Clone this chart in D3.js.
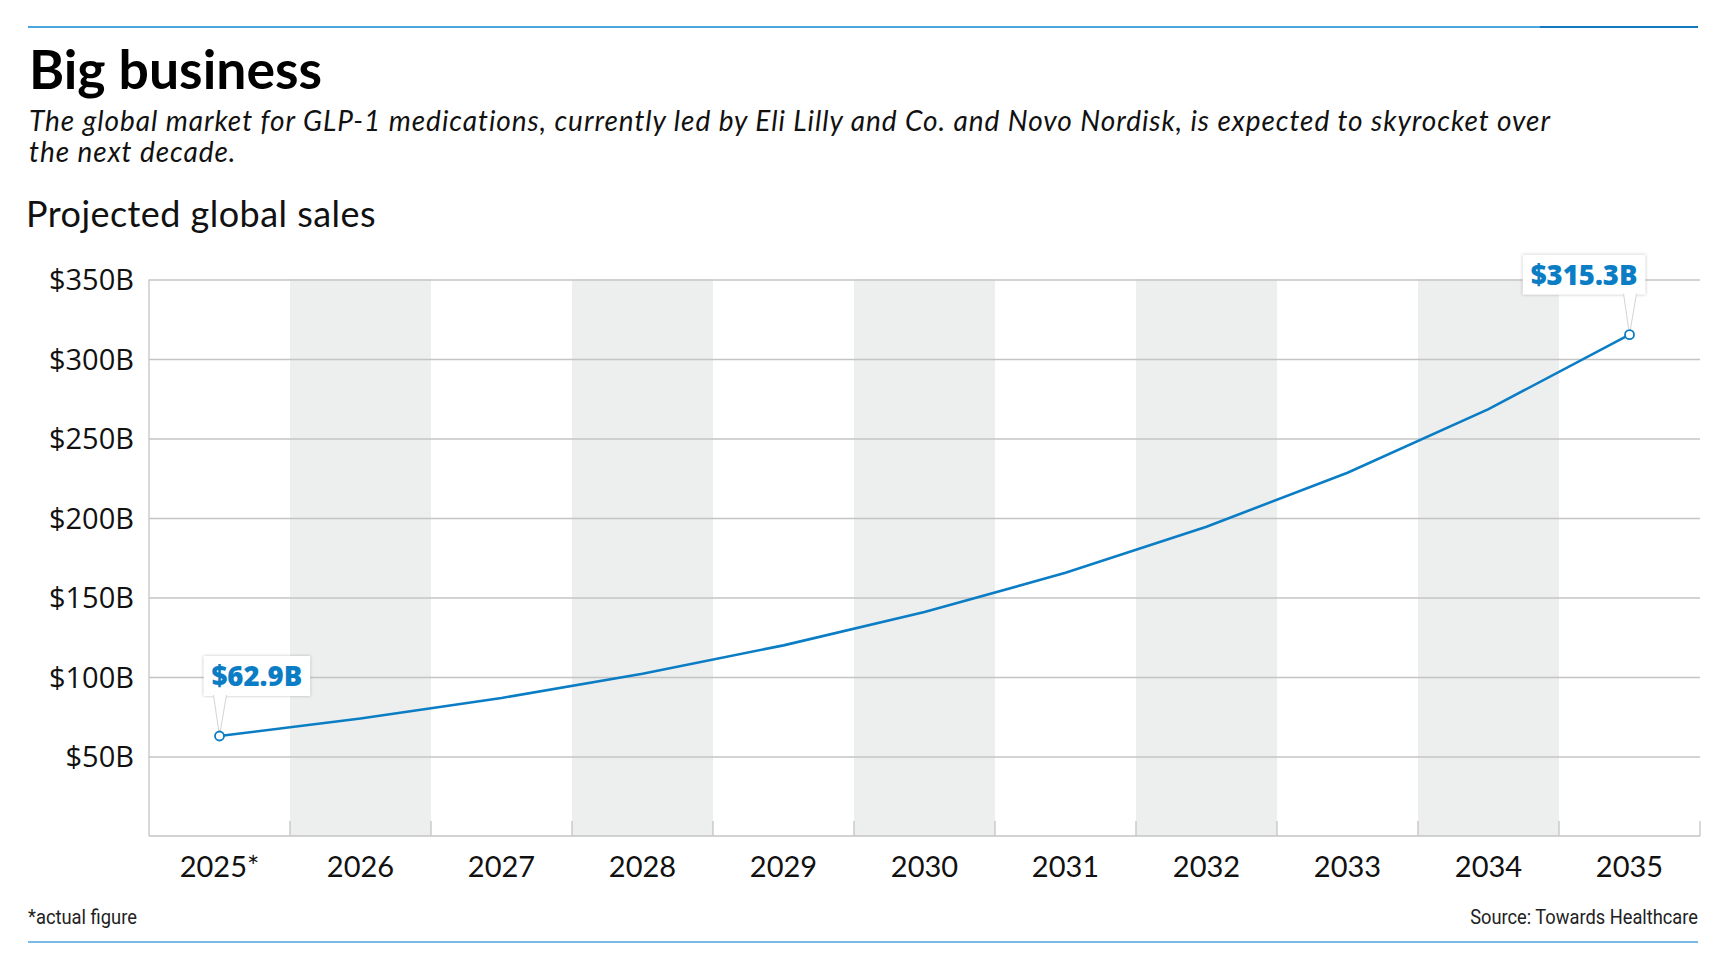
<!DOCTYPE html>
<html>
<head>
<meta charset="utf-8">
<script src="https://cdn.jsdelivr.net/npm/d3@7"></script>
<style>
  body { margin: 0; background: #fff; }
  svg { display: block; }
</style>
</head>
<body>
<svg id="chart" width="1735" height="973"></svg>
<script>
// data
let years = ["2025*", "2026", "2027", "2028", "2029", "2030", "2031", "2032", "2033", "2034", "2035"]
let sales = [62.9, 73.9, 86.8, 102.0, 119.9, 140.9, 165.5, 194.5, 228.5, 268.5, 315.3]
let yTicks = [50, 100, 150, 200, 250, 300, 350]
let calloutIdx = [0, 10]

let svg = d3.select("#chart")
let blue = "#0b7dc5"
let grid = "#c4c4c4"

let pLeft = 149, pRight = 1700, pTop = 279.5, pBottom = 836

let x = d3.scaleBand().domain(years).range([pLeft, pRight])
let y = d3.scaleLinear().domain([0, 350]).range([pBottom, pTop])

// rules top and bottom
svg.append("line").attr("x1", 28).attr("x2", 1698).attr("y1", 27).attr("y2", 27)
    .attr("stroke", "#4ba6de").attr("stroke-width", 2)
svg.append("line").attr("x1", 1540).attr("x2", 1698).attr("y1", 27).attr("y2", 27)
    .attr("stroke", "#1478c0").attr("stroke-width", 2)
svg.append("line").attr("x1", 28).attr("x2", 1698).attr("y1", 942).attr("y2", 942)
    .attr("stroke", "#4ba6de").attr("stroke-width", 1.5)

// titles
svg.append("text").attr("x", 29).attr("y", 89)
    .attr("font-family", "Lato").attr("font-weight", 700).attr("font-size", 53.5)
    .attr("fill", "#000").text("Big business")

// subtitle, two lines as in the reference
let subLines = ["The global market for GLP-1 medications, currently led by Eli Lilly and Co. and Novo Nordisk, is expected to skyrocket over",
    "the next decade."]
svg.selectAll("text.sub")
    .data(subLines)
    .join("text")
    .attr("class", "sub")
    .attr("x", 29)
    .attr("y", (d, i) => 131 + i * 31)
    .attr("font-family", "Lato").attr("font-style", "italic")
    .attr("font-size", 28).attr("letter-spacing", 0.95).attr("fill", "#111")
    .text(d => d)

svg.append("text").attr("x", 26).attr("y", 227)
    .attr("font-family", "Lato").attr("font-weight", 400).attr("font-size", 36)
    .attr("letter-spacing", 0.45)
    .attr("fill", "#111").text("Projected global sales")

// alternating bands
let plot = svg.append("g")
plot.selectAll("rect.band")
    .data(years.filter((d, i) => i % 2 === 1))
    .join("rect")
    .attr("class", "band")
    .attr("x", d => x(d))
    .attr("y", pTop)
    .attr("width", x.bandwidth())
    .attr("height", pBottom - pTop)
    .attr("fill", "#edeeee")

// horizontal gridlines
let yAxis = d3.axisLeft(y).tickValues(yTicks).tickSize(-(pRight - pLeft)).tickFormat(d => "$" + d + "B")
let gy = plot.append("g").attr("transform", "translate(" + pLeft + ",0)").call(yAxis)
gy.select(".domain").remove()
gy.selectAll(".tick line").attr("stroke", grid).attr("stroke-width", 1.3)
gy.selectAll(".tick text")
    .attr("x", -15)
    .attr("dy", "0.36em")
    .attr("font-family", "Open Sans").attr("font-size", 29).attr("fill", "#111")

// left and bottom axis lines
plot.append("line").attr("x1", pLeft).attr("x2", pLeft).attr("y1", pTop).attr("y2", pBottom)
    .attr("stroke", grid).attr("stroke-width", 1.3)
plot.append("line").attr("x1", pLeft).attr("x2", pRight).attr("y1", pBottom).attr("y2", pBottom)
    .attr("stroke", grid).attr("stroke-width", 1.5)

// small ticks at band edges
plot.selectAll("line.tk")
    .data(years)
    .join("line")
    .attr("class", "tk")
    .attr("x1", d => x(d) + x.bandwidth()).attr("x2", d => x(d) + x.bandwidth())
    .attr("y1", pBottom - 15).attr("y2", pBottom)
    .attr("stroke", grid).attr("stroke-width", 1.3)

// x labels
plot.selectAll("text.xl")
    .data(years)
    .join("text")
    .attr("class", "xl")
    .attr("x", d => x(d) + x.bandwidth() / 2)
    .attr("y", 877)
    .attr("text-anchor", "middle")
    .attr("font-family", "Lato").attr("font-size", 29).attr("fill", "#111")
    .text(d => d)

// line
let cx = (d, i) => x(years[i]) + x.bandwidth() / 2
let line = d3.line().x((d, i) => cx(d, i)).y(d => y(d))
plot.append("path")
    .attr("d", line(sales))
    .attr("fill", "none")
    .attr("stroke", blue)
    .attr("stroke-width", 2.6)

// callouts
calloutIdx.forEach(function (i) {
    let px = cx(sales[i], i)
    let py = y(sales[i])
    let label = "$" + sales[i] + "B"
    let g = plot.append("g")
    let t = g.append("text")
        .attr("font-family", "Open Sans").attr("font-weight", 800).attr("font-size", 27.5)
        .attr("fill", blue).text(label)
    let w = t.node().getComputedTextLength() + 16
    let h = 40
    let bx = i === 0 ? px - 16 : px + 16 - w
    let by = py - 40 - h
    g.insert("rect", "text")
        .attr("x", bx).attr("y", by).attr("width", w).attr("height", h)
        .attr("fill", "#fff")
        .style("filter", "drop-shadow(0px 0px 1.5px rgba(0,0,0,0.25))")
    g.insert("path", "text")
        .attr("d", "M" + (px - 6) + "," + (by + h - 1) + "L" + px + "," + py + "L" + (px + 7) + "," + (by + h - 1))
        .attr("fill", "#fff").attr("stroke", "#d4d4d4").attr("stroke-width", 1)
    t.attr("x", bx + 8).attr("y", by + h - 10)
    g.append("circle").attr("cx", px).attr("cy", py).attr("r", 4.5)
        .attr("fill", "#fff").attr("stroke", blue).attr("stroke-width", 1.8)
})

// footnotes
svg.append("text").attr("x", 28).attr("y", 924)
    .attr("font-family", "Roboto").attr("font-size", 21).attr("fill", "#222")
    .attr("textLength", 109).attr("lengthAdjust", "spacingAndGlyphs")
    .text("*actual figure")
svg.append("text").attr("x", 1698).attr("y", 924).attr("text-anchor", "end")
    .attr("font-family", "Roboto").attr("font-size", 21).attr("fill", "#222")
    .text("Source: Towards Healthcare")
    .attr("transform", "translate(1698,0) scale(0.87,1) translate(-1698,0)")
</script>
</body>
</html>
